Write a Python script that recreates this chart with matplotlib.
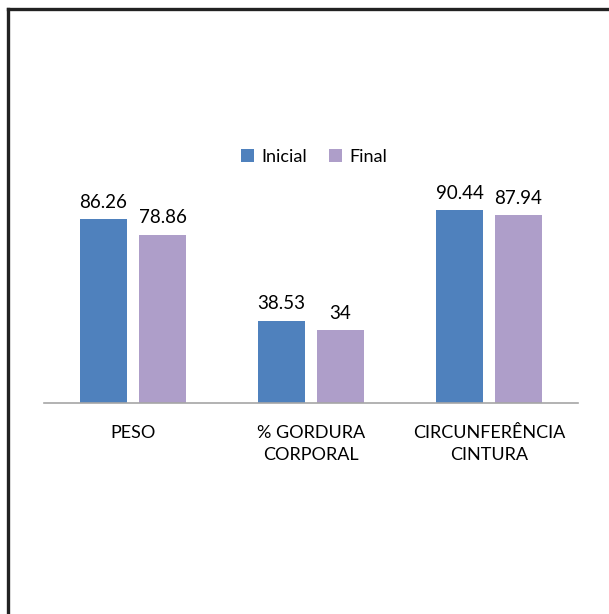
import numpy as np
import matplotlib.pyplot as plt
from matplotlib.lines import Line2D

categories = ["PESO", "% GORDURA\nCORPORAL", "CIRCUNFERÊNCIA\nCINTURA"]
inicial = [86.26, 38.53, 90.44]
final = [78.86, 34, 87.94]
inicial_labels = ["86.26", "38.53", "90.44"]
final_labels = ["78.86", "34", "87.94"]

W, H = 609, 614
fig = plt.figure(figsize=(W / 100, H / 100), dpi=100)
plt.rcParams['font.family'] = ['Lato', 'DejaVu Sans']

ax = fig.add_axes([44 / W, (H - 403) / H, 534 / W, 213.3 / H])

x = np.arange(len(categories))
bw = 47 / 178
off = 59 / 2 / 178
b1 = ax.bar(x - off, inicial, bw, color='#4F81BD', label='Inicial')
b2 = ax.bar(x + off, final, bw, color='#AE9EC9', label='Final')

for bars, labs in ((b1, inicial_labels), (b2, final_labels)):
    for r, t in zip(bars, labs):
        ax.annotate(t, (r.get_x() + r.get_width() / 2, r.get_height()),
                    xytext=(0, 6), textcoords='offset points',
                    ha='center', va='bottom', fontsize=13.5, color='#000000')

ax.set_xlim(-0.5, 2.5)
ax.set_ylim(0, 100)
ax.set_xticks(x)
ax.set_xticklabels(categories, fontsize=13, color='#000000', linespacing=1.45)
ax.tick_params(axis='x', length=0, pad=16)
ax.set_yticks([])
for s in ('top', 'right', 'left'):
    ax.spines[s].set_visible(False)
ax.spines['bottom'].set_color('#A6A6A6')
ax.spines['bottom'].set_linewidth(1.2)

fig.legend(handles=[b1, b2], labels=['Inicial', 'Final'], loc='center',
           bbox_to_anchor=(314 / W, 1 - 157 / H), ncol=2, frameon=False,
           fontsize=13, handlelength=0.75, handleheight=0.75,
           handletextpad=0.4, columnspacing=1.2)

# page frame (left and top edges)
fig.add_artist(Line2D([7.5 / W, 7.5 / W], [0, 1 - 8.5 / H], color='#222222', lw=2.4))
fig.add_artist(Line2D([7.5 / W, 1], [1 - 8.5 / H, 1 - 8.5 / H], color='#222222', lw=2.4))

fig.savefig('out.png', dpi=100)
